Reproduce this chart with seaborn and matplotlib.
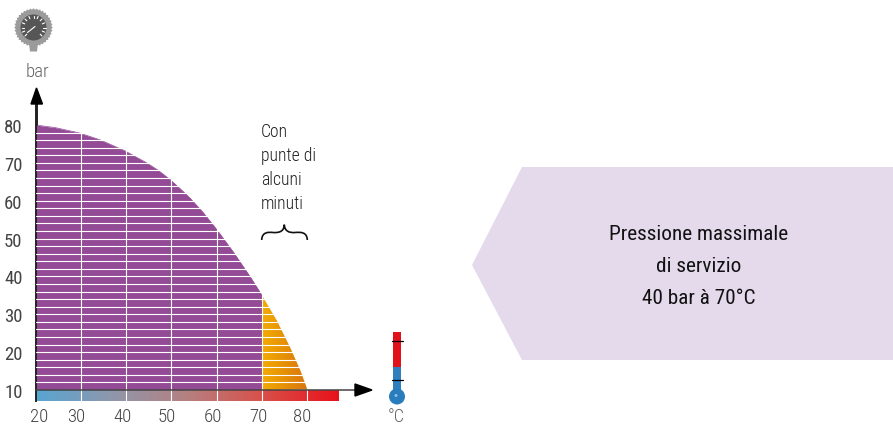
import numpy as np
import seaborn as sns
import matplotlib
matplotlib.use("Agg")
import matplotlib.pyplot as plt
from matplotlib.colors import LinearSegmentedColormap
from matplotlib.patches import Circle, Polygon, Rectangle, PathPatch
from matplotlib.path import Path
from matplotlib.transforms import ScaledTranslation

# values
temp_main = [20, 24.4, 29.7, 34.2, 39.7, 44.4, 47, 49.7, 52, 54.1, 57, 60, 63.7, 67.4, 70]
bar_main = [80, 79.3, 77.9, 76.1, 73.2, 70.1, 68.1, 65.6, 63.1, 60.7, 56.9, 52.4, 46.4, 39.9, 35]
temp_peak = [70, 73.3, 76.2, 78.5, 80]
bar_peak = [35, 28.3, 21.3, 15.1, 10.2]
x_ticks = [20, 30, 40, 50, 60, 70, 80]
y_ticks = [10, 20, 30, 40, 50, 60, 70, 80]
grid_x = [30, 40, 50, 60, 70, 80]
stripes = list(range(12, 80, 2))
note_lines = ["Con", "punte di", "alcuni", "minuti"]
box_lines = ["Pressione massimale", "di servizio", "40 bar à 70°C"]

W, H = 893, 427
X_MIN, X_MAX = 20, 86.7
Y_MIN, Y_MAX = 7.1, 88

sns.set_theme(style="white")
plt.rcParams["font.family"] = ["Roboto Condensed", "DejaVu Sans"]

PURPLE = "#944b96"
TXT = "#444444"

fig = plt.figure(figsize=(W / 100, H / 100), dpi=100)

left = 35.5
right = left + (X_MAX - X_MIN) * 4.53
bottom = 402
top = 391 - (Y_MAX - 10) * 3.786
ax = fig.add_axes([left / W, 1 - bottom / H, (right - left) / W, (bottom - top) / H])
ax.patch.set_alpha(0)

# pressure area
ax.fill_between(temp_main, bar_main, 10, color=PURPLE, lw=0, zorder=2)
sns.lineplot(x=temp_main, y=bar_main, color=PURPLE, lw=0.5, ax=ax, zorder=2, estimator=None)

# peak area with gradient
peak_x = temp_peak + [70]
peak_y = bar_peak + [10]
orange = LinearSegmentedColormap.from_list("o", ["#f2ab00", "#d9740f"])
im = ax.imshow(np.linspace(0, 1, 128).reshape(1, -1), cmap=orange, aspect="auto",
               extent=(70, 80, 10, 35), zorder=2)
clip = Polygon(np.column_stack([peak_x, peak_y]), transform=ax.transData)
im.set_clip_path(clip)

# temperature strip
strip = LinearSegmentedColormap.from_list("t", ["#57a5d2", "#8f97ac", "#b58080", "#d9504a", "#e8121a"])
ax.imshow(np.linspace(0, 1, 256).reshape(1, -1), cmap=strip, aspect="auto",
          extent=(X_MIN, X_MAX, Y_MIN, 10), zorder=2)

# white grid over the fills
for s in stripes:
    ax.plot([X_MIN, 81], [s, s], color="white", lw=0.8, zorder=3)
for g in grid_x:
    ax.plot([g, g], [Y_MIN, 80], color="white", lw=0.8, zorder=3)

ax.set_xlim(X_MIN, X_MAX)
ax.set_ylim(Y_MIN, Y_MAX)
ax.set_xticks(x_ticks)
ax.set_yticks(y_ticks)
ax.tick_params(axis="x", length=0, pad=4, labelsize=13.5, labelcolor=TXT)
ax.tick_params(axis="y", length=7, width=1, color="#444444", pad=3, labelsize=13.5, labelcolor=TXT)
offsets = [4, -5, -4, -5, -4, -4, -5]
for lab, dx in zip(ax.get_xticklabels(), offsets):
    lab.set_transform(lab.get_transform() + ScaledTranslation(dx / 100, 0, fig.dpi_scale_trans))
    lab.set_fontweight(300)
for lab in ax.get_yticklabels():
    lab.set_verticalalignment("center")
    lab.set_transform(lab.get_transform() + ScaledTranslation(0, 1 / 100, fig.dpi_scale_trans))
    lab.set_fontweight(300)
sns.despine(ax=ax, bottom=True, top=True, right=True)
ax.spines["left"].set_position(("outward", -0.7))
ax.spines["left"].set_color("#222222")
ax.spines["left"].set_linewidth(1.4)

# pixel overlay for the arrows, icons and the side box
ov = fig.add_axes([0, 0, 1, 1], zorder=5)
ov.set_xlim(0, W)
ov.set_ylim(H, 0)
ov.axis("off")
ov.patch.set_alpha(0)

ov.plot([36, 358], [391, 391], color="#444444", lw=1.1, zorder=4)
ov.add_patch(Polygon([[372, 391], [355, 385], [355, 397]], color="black", zorder=5))
ov.add_patch(Polygon([[36.5, 89], [31, 105], [42.5, 105]], color="black", zorder=5))
ov.plot([36.5, 36.5], [105, 126], color="#222222", lw=1.4)

ov.text(37, 72, "bar", ha="center", va="center", fontsize=13.5, fontweight=300, color="#666666")
ov.text(396, 417, "°C", ha="center", va="center", fontsize=13, fontweight=300, color="#666666")

for i, line in enumerate(note_lines):
    ov.text(261, 132 + i * 24, line, ha="left", va="center", fontsize=12.7, fontweight=300, color="#222222")

brace = Path([(261.7, 241), (262, 233), (268, 233), (273, 233.5), (280, 234), (284, 232), (284.3, 225.7),
              (284.6, 232), (289, 234), (295, 233.5), (301, 233), (307, 233), (307.3, 241)],
             [Path.MOVETO] + [Path.CURVE4] * 12)
ov.add_patch(PathPatch(brace, fc="none", ec="#111111", lw=1.2))

# side box
ov.add_patch(Polygon([[522, 168], [893, 168], [893, 361], [522, 361], [472, 266]],
                     color="#e5daec", lw=0))
for i, line in enumerate(box_lines):
    ov.text(699, 235 + i * 32, line, ha="center", va="center", fontsize=15.3, color="#111111")

# thermometer
ov.add_patch(Rectangle((393, 333), 8, 35, color="#e2121b", lw=0))
ov.add_patch(Rectangle((393, 368), 8, 24, color="#2f7fbf", lw=0))
ov.add_patch(Circle((397, 397.5), 8, color="#2a7dbd", lw=0))
ov.add_patch(Circle((396, 396.5), 1.5, color="#8cc0e6", lw=0))
ov.plot([392, 403], [341.5, 341.5], color="black", lw=0.9)
ov.plot([392, 403], [381, 381], color="black", lw=0.9)

# pressure gauge
cx, cy = 33.5, 28.5
ang = np.linspace(0, 2 * np.pi, 73)[:-1]
rad = np.where(np.arange(72) % 2 == 0, 19.3, 17.8)
ov.add_patch(Polygon(np.column_stack([cx + rad * np.cos(ang), cy + rad * np.sin(ang)]), color="#9b9b9b", lw=0))
ov.add_patch(Polygon([[29, 44], [38, 44], [37, 52.5], [30, 52.5]], color="#9b9b9b", lw=0))
ov.add_patch(Circle((cx, cy), 13, color="#565656", lw=0))
for a in np.radians(np.arange(135, 406, 22.5)):
    ov.plot([cx + 9.5 * np.cos(a), cx + 12 * np.cos(a)], [cy + 9.5 * np.sin(a), cy + 12 * np.sin(a)],
            color="white", lw=0.8)
ov.plot([27.5, 35], [33.5, 27.5], color="white", lw=0.8)

fig.savefig("out.png", dpi=100)
